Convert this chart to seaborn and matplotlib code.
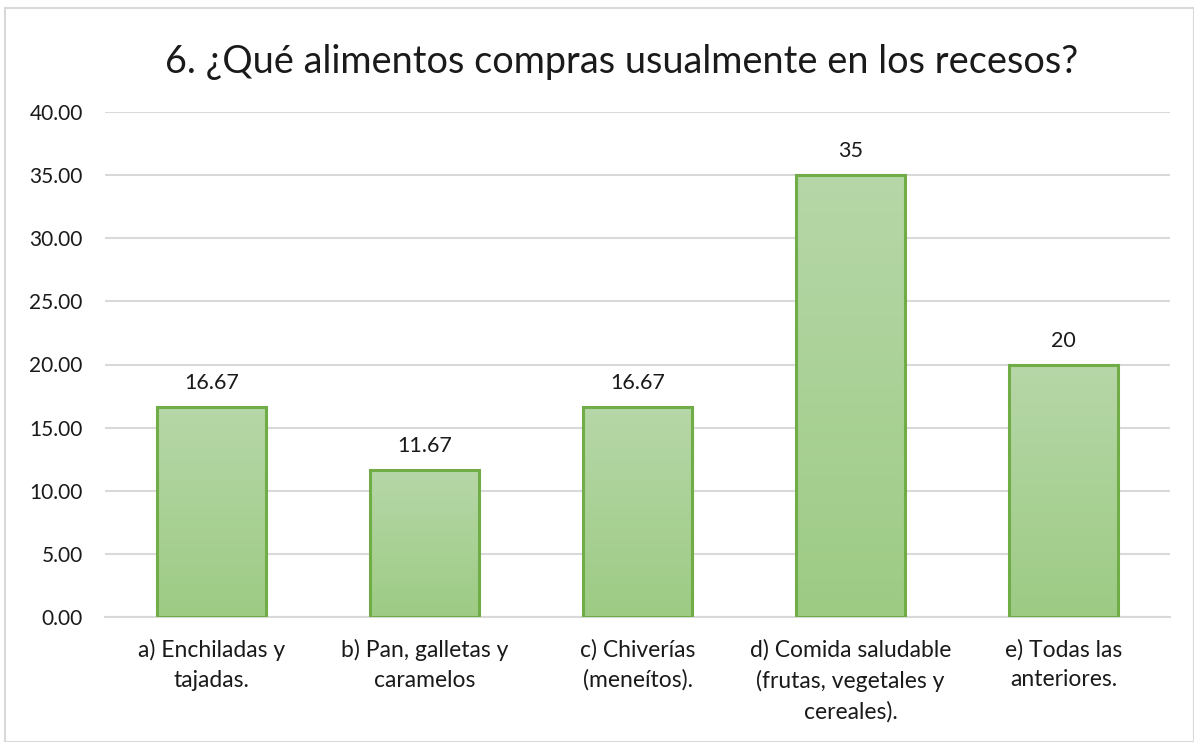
import matplotlib
matplotlib.use("Agg")
import matplotlib.pyplot as plt
import seaborn as sns
import numpy as np
import pandas as pd
from matplotlib.patches import Rectangle

categories = ["a) Enchiladas y\ntajadas.", "b) Pan, galletas y\ncaramelos",
              "c) Chiverías\n(meneítos).", "d) Comida saludable\n(frutas, vegetales y\ncereales).",
              "e) Todas las\nanteriores."]
values = [16.67, 11.67, 16.67, 35, 20]
value_labels = ["16.67", "11.67", "16.67", "35", "20"]
yticks = [0, 5, 10, 15, 20, 25, 30, 35, 40]
title = "6. ¿Qué alimentos compras usualmente en los recesos?"

sns.set_theme(style="white")
plt.rcParams['font.family'] = ['Lato', 'DejaVu Sans']

fig = plt.figure(figsize=(11.94, 7.42), dpi=100)
fig.patches.append(Rectangle((5/1194, 0), 1 - 5/1194 - 0.5/1194, 1 - 8/742, transform=fig.transFigure,
                             fill=False, edgecolor="#D9D9D9", linewidth=1.5))
ax = fig.add_axes([105/1194, 1 - 617/742, (1170 - 105)/1194, (617 - 112)/742])

df = pd.DataFrame({"cat": categories, "val": values})
sns.barplot(data=df, x="cat", y="val", ax=ax, width=0.51, color="#A9D18E",
            edgecolor="#70AD47", linewidth=2.2, saturation=1)

top_c = np.array(matplotlib.colors.to_rgba("#B6D7A8"))
bot_c = np.array(matplotlib.colors.to_rgba("#9DCB84"))
t = np.linspace(0, 1, 256)[:, None, None]
grad = top_c[None, None, :] * (1 - t) + bot_c[None, None, :] * t
for p in ax.patches:
    x0, y0 = p.get_x(), p.get_y()
    w, h = p.get_width(), p.get_height()
    p.set_facecolor("none")
    p.set_zorder(4)
    im = ax.imshow(grad, extent=[x0, x0 + w, y0, y0 + h], aspect="auto", zorder=3)
    im.set_clip_path(p)

for p, lab in zip(ax.patches, value_labels):
    ax.annotate(lab, (p.get_x() + p.get_width() / 2, p.get_height()), xytext=(0, 10),
                textcoords="offset points", ha="center", va="bottom", fontsize=15.5, color="#1a1a1a")

ax.set_xlim(-0.5, len(categories) - 0.5)
ax.set_ylim(0, 40)
ax.set_yticks(yticks)
ax.set_yticklabels([f"{v:.2f}" for v in yticks], fontsize=15, color="#1a1a1a")
ax.tick_params(axis="y", length=0, pad=16)
ax.tick_params(axis="x", length=0, pad=16, labelsize=16.5, labelcolor="#1a1a1a")
for lab in ax.get_xticklabels():
    lab.set_linespacing(1.5)
ax.set_xlabel("")
ax.set_ylabel("")
ax.grid(axis="y", color="#D9D9D9", linewidth=1.5, zorder=0)
ax.set_axisbelow(True)
for s in ["top", "right", "left"]:
    ax.spines[s].set_visible(False)
ax.spines["bottom"].set_color("#D9D9D9")
ax.spines["bottom"].set_linewidth(1.5)

fig.text(622/1194, 1 - 62/742, title, ha="center", va="center", fontsize=27.3, color="#1a1a1a")

fig.savefig("out.png", dpi=100)
